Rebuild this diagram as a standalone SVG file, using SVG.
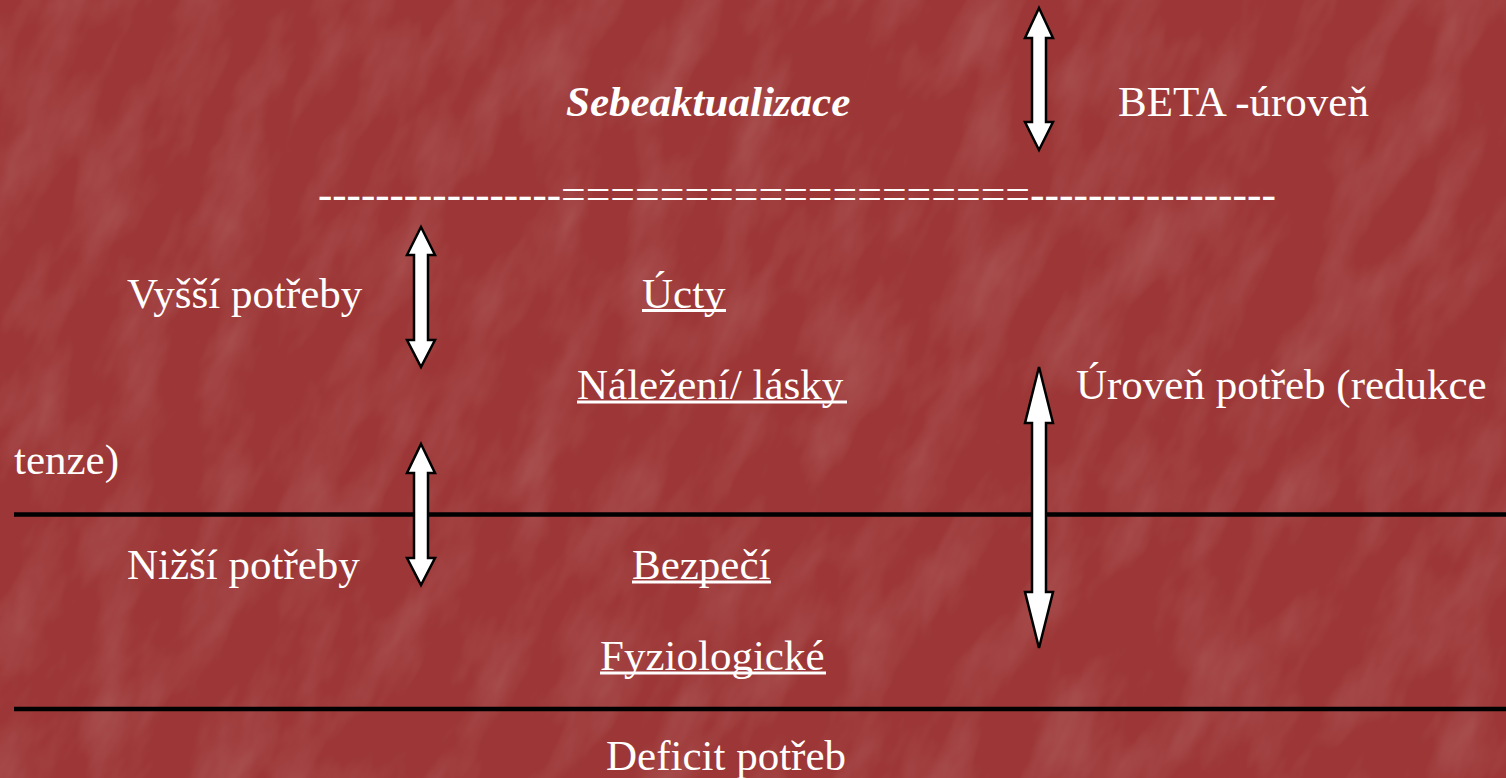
<svg xmlns="http://www.w3.org/2000/svg" width="1506" height="778" viewBox="0 0 1506 778">
<defs>
<filter id="tex" x="0" y="0" width="100%" height="100%">
<feTurbulence type="fractalNoise" baseFrequency="0.008 0.02" numOctaves="4" seed="11" result="n"/>
<feColorMatrix in="n" type="matrix" values="0 0 0 0 1  0 0 0 0 1  0 0 0 0 1  1.3 0 0 0 -0.55" result="m"/>
<feComposite in="m" in2="SourceGraphic" operator="in"/>
</filter>
<clipPath id="clip"><rect width="1506" height="778"/></clipPath>
<style>
.t{font-family:"Liberation Serif","Times New Roman",serif;font-size:43px;fill:#ffffff}
.bi{font-weight:bold;font-style:italic}
.ul{stroke:#fff;stroke-width:3}
.rule{stroke:#000;stroke-width:4.5}
.arrow{fill:#fff;stroke:#000;stroke-width:2.5;stroke-linejoin:miter}
</style>
</defs>
<rect width="1506" height="778" fill="#9d3737"/>
<g clip-path="url(#clip)">
<rect x="-800" y="-1100" width="3100" height="3000" fill="#b85555" filter="url(#tex)" opacity="0.2" transform="rotate(-65 753 389)"/>
</g>

<g id="rules">
<line class="rule" x1="14" y1="514.5" x2="1506" y2="514.5"/>
<line class="rule" x1="14" y1="709" x2="1506" y2="709"/>
</g>

<g id="connectors">
<polygon class="arrow" points="1039,8 1053,38 1046,38 1046,122 1053,122 1039,150 1025,122 1032,122 1032,38 1025,38"/>
<polygon class="arrow" points="421,227 435,255 428,255 428,340 435,340 421,367 407,340 414,340 414,255 407,255"/>
<polygon class="arrow" points="421,444 435,473 428,473 428,558 435,558 421,585 407,558 414,558 414,473 407,473"/>
<polygon class="arrow" points="1039,367 1053,423 1046,423 1046,592 1053,592 1039,648 1025,592 1032,592 1032,423 1025,423"/>
</g>

<g id="n-sebe"><text class="t bi" x="566" y="116">Sebeaktualizace</text></g>
<g id="n-beta"><text class="t" x="1118" y="116">BETA -úroveň</text></g>
<g id="n-divider">
<text class="t" x="318" y="208" textLength="243" lengthAdjust="spacingAndGlyphs">-----------------</text>
<text class="t" x="561" y="208" textLength="469" lengthAdjust="spacingAndGlyphs">===================</text>
<text class="t" x="1030" y="208" textLength="246" lengthAdjust="spacingAndGlyphs">-----------------</text>
</g>
<g id="n-vyssi"><text class="t" x="127" y="308">Vyšší potřeby</text></g>
<g id="n-ucty"><text class="t" x="642" y="308">Úcty</text><line class="ul" x1="642" y1="310.5" x2="726" y2="310.5"/></g>
<g id="n-nalezeni"><text class="t" x="577" y="399">Náležení/ lásky</text><line class="ul" x1="577" y1="402" x2="847" y2="402"/></g>
<g id="n-uroven"><text class="t" x="1076" y="399">Úroveň potřeb (redukce</text></g>
<g id="n-tenze"><text class="t" x="14" y="474">tenze)</text></g>
<g id="n-nizsi"><text class="t" x="127" y="579">Nižší potřeby</text></g>
<g id="n-bezpeci"><text class="t" x="632" y="579">Bezpečí</text><line class="ul" x1="632" y1="582" x2="771" y2="582"/></g>
<g id="n-fyzio"><text class="t" x="600" y="670">Fyziologické</text><line class="ul" x1="600" y1="673" x2="826" y2="673"/></g>
<g id="n-deficit"><text class="t" x="606" y="770">Deficit potřeb</text></g>
</svg>
